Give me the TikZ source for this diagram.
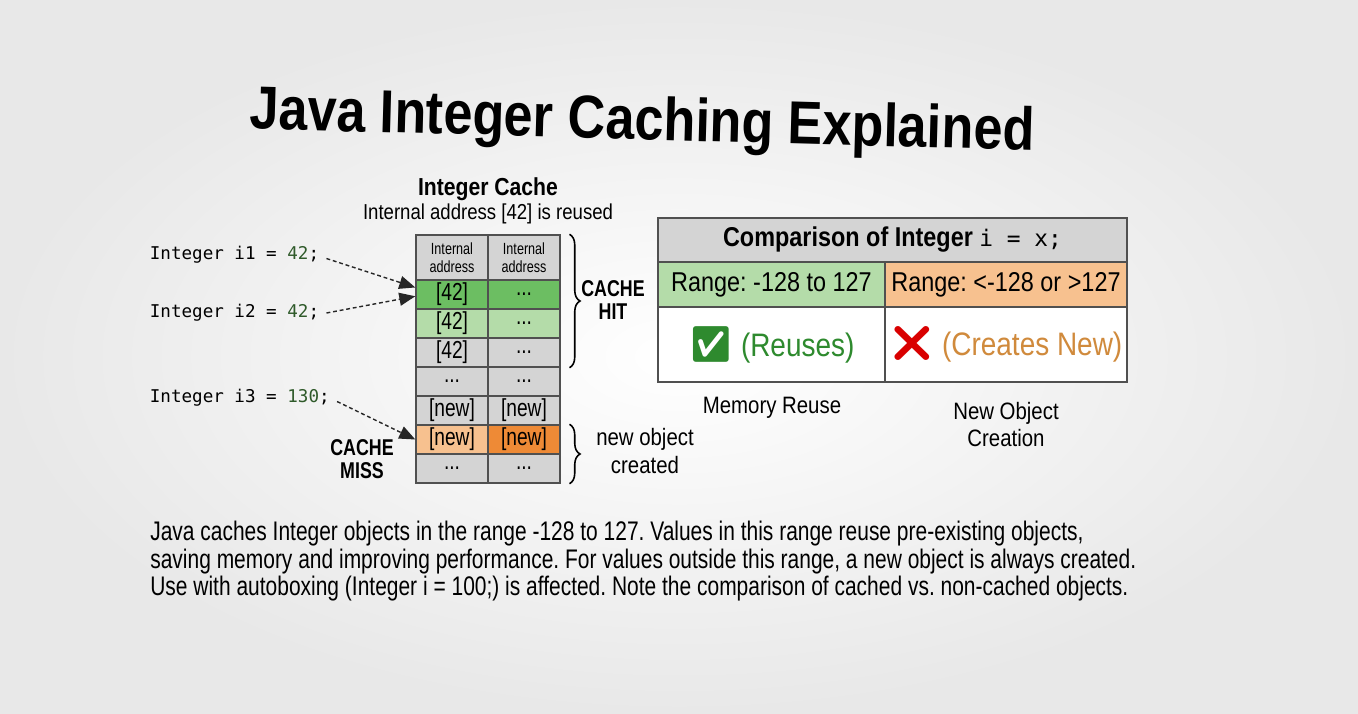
\documentclass[tikz,border=0pt]{standalone}
\usepackage{fontspec}
\setmainfont{Liberation Sans}[FakeStretch=0.86]
\setmonofont{DejaVu Sans Mono}
\newfontfamily\narrowfont{Liberation Sans}[FakeStretch=0.78]
\newfontfamily\emojifont{Noto Emoji}
\usetikzlibrary{arrows.meta,decorations.pathreplacing,positioning}
\frenchspacing

\definecolor{cachegray}{HTML}{D4D4D4}
\definecolor{hitdark}{HTML}{6CBE62}
\definecolor{hitlight}{HTML}{B4DCA9}
\definecolor{misslight}{HTML}{F7C18F}
\definecolor{missdark}{HTML}{EE8A36}
\definecolor{codegreen}{HTML}{2F5A2A}
\definecolor{reusegreen}{HTML}{2E8A2E}
\definecolor{neworange}{HTML}{D08A3C}
\definecolor{gridline}{HTML}{505050}

\begin{document}
\begin{tikzpicture}[
x=0.02cm, y=-0.02cm,
font=\fontsize{13}{15}\selectfont,
cell/.style={draw=gridline, fill=#1, line width=0.8pt, minimum width=1.44cm, minimum height=0.58cm, inner sep=0pt, font=\narrowfont\fontsize{14}{15}\selectfont},
cell/.default=cachegray,
headcell/.style={cell, minimum height=0.9cm, align=center, font=\narrowfont\fontsize{9.2}{10}\selectfont},
code/.style={anchor=west, inner sep=2pt, font=\ttfamily\fontsize{10}{12}\selectfont},
ptr/.style={-{Triangle[length=3.2mm,width=2.6mm]}, line width=0.8pt, dash pattern=on 2.2pt off 1.6pt, draw=black!85},
brace/.style={decorate, decoration={brace, amplitude=6pt, raise=#1}, line width=0.9pt},
tag/.style={font=\narrowfont\bfseries\fontsize{13}{13.5}\selectfont, align=center},
cmp/.style={draw=gridline, line width=0.8pt, fill=#1, inner sep=0pt, minimum height=0.9cm, font=\fontsize{15.5}{17}\selectfont},
note/.style={font=\fontsize{13.5}{15.5}\selectfont, align=center}
]
\useasboundingbox (0,0) rectangle (1358,713);
\shade[inner color=white, outer color=black!9] (0,0) rectangle (1358,713);

% title
\node[font=\bfseries\fontsize{34.5}{40}\selectfont, rotate=-1.6] (title) at (642,124) {Java Integer Caching Explained};

% integer cache table
\node[font=\bfseries\fontsize{14}{15}\selectfont] (cachetitle) at (488,189) {Integer Cache};
\node[font=\fontsize{12.3}{13}\selectfont] (cachesub) at (488,214) {Internal address [42] is reused};

\node[headcell] (h l) at (452,257.5) {Internal\\address};
\node[headcell] (h r) at (524,257.5) {Internal\\address};
\node[cell=hitdark] (r1l) at (452,294.5) {[42]};
\node[cell=hitdark] (r1r) at (524,294.5) {...};
\node[cell=hitlight] (r2l) at (452,323.5) {[42]};
\node[cell=hitlight] (r2r) at (524,323.5) {...};
\node[cell] (r3l) at (452,352.5) {[42]};
\node[cell] (r3r) at (524,352.5) {...};
\node[cell] (r4l) at (452,381.5) {...};
\node[cell] (r4r) at (524,381.5) {...};
\node[cell] (r5l) at (452,410.5) {[new]};
\node[cell] (r5r) at (524,410.5) {[new]};
\node[cell=misslight] (r6l) at (452,439.5) {[new]};
\node[cell=missdark] (r6r) at (524,439.5) {[new]};
\node[cell] (r7l) at (452,468.5) {...};
\node[cell] (r7r) at (524,468.5) {...};

% code lines
\node[code] (i1) at (146,255) {Integer i1 = \textcolor{codegreen}{42};};
\node[code] (i2) at (146,313) {Integer i2 = \textcolor{codegreen}{42};};
\node[code] (i3) at (146,398) {Integer i3 = \textcolor{codegreen}{130};};

\draw[ptr] ([shift={(2pt,-2pt)}]i1.east) -- ([yshift=4pt]r1l.west);
\draw[ptr] ([xshift=2pt]i2.east) -- ([yshift=-1pt]r1l.west);
\draw[ptr] ([shift={(2pt,-2pt)}]i3.east) -- (r6l.west);

% braces
\draw[brace=5pt] (h r.north east) -- (r3r.south east);
\draw[brace=5pt] (r6r.north east) -- (r7r.south east);
\node[tag] (hit) at (613,300) {CACHE\\HIT};
\node[tag] (miss) at (362,459) {CACHE\\MISS};
\node[note] (newobj) at (645,451) {new object\\created};

% comparison table
\node[cmp=cachegray, minimum width=9.38cm, minimum height=0.88cm, font=\bfseries\fontsize{15.5}{17}\selectfont] (cmphead) at (892.5,240) {Comparison of Integer \mdseries\texttt{\fontsize{13}{15}\selectfont i = x;}};
\node[cmp=hitlight, minimum width=4.54cm] (rngl) at (771.5,284.5) {Range: -128 to 127};
\node[cmp=misslight, minimum width=4.84cm] (rngr) at (1006,284.5) {Range: <-128 or >127};
\node[cmp=white, minimum width=4.54cm, minimum height=1.5cm, font=\fontsize{18.5}{20}\selectfont] (resl) at (771.5,344.5) {{\emojifont\fontsize{20}{20}\selectfont\textcolor{reusegreen}{✅}} \textcolor{reusegreen}{(Reuses)}};
\node[cmp=white, minimum width=4.84cm, minimum height=1.5cm, font=\fontsize{18.5}{20}\selectfont] (resr) at (1006,344.5) {{\emojifont\fontsize{20}{20}\selectfont\textcolor{red!85!black}{❌}} \textcolor{neworange}{(Creates New)}};

\node[note] (reuse) at (772,408) {Memory Reuse};
\node[note, anchor=north] (creation) at (1006,396) {New Object\\Creation};

% summary
\node[anchor=north west, align=left, inner sep=0pt, font=\narrowfont\fontsize{15.3}{15.6}\selectfont] (summary) at (150,521) {Java caches Integer objects in the range -128 to 127. Values in this range reuse pre-existing objects,\\
saving memory and improving performance. For values outside this range, a new object is always created.\\
Use with autoboxing (Integer i = 100;) is affected. Note the comparison of cached vs. non-cached objects.};
\end{tikzpicture}
\end{document}
